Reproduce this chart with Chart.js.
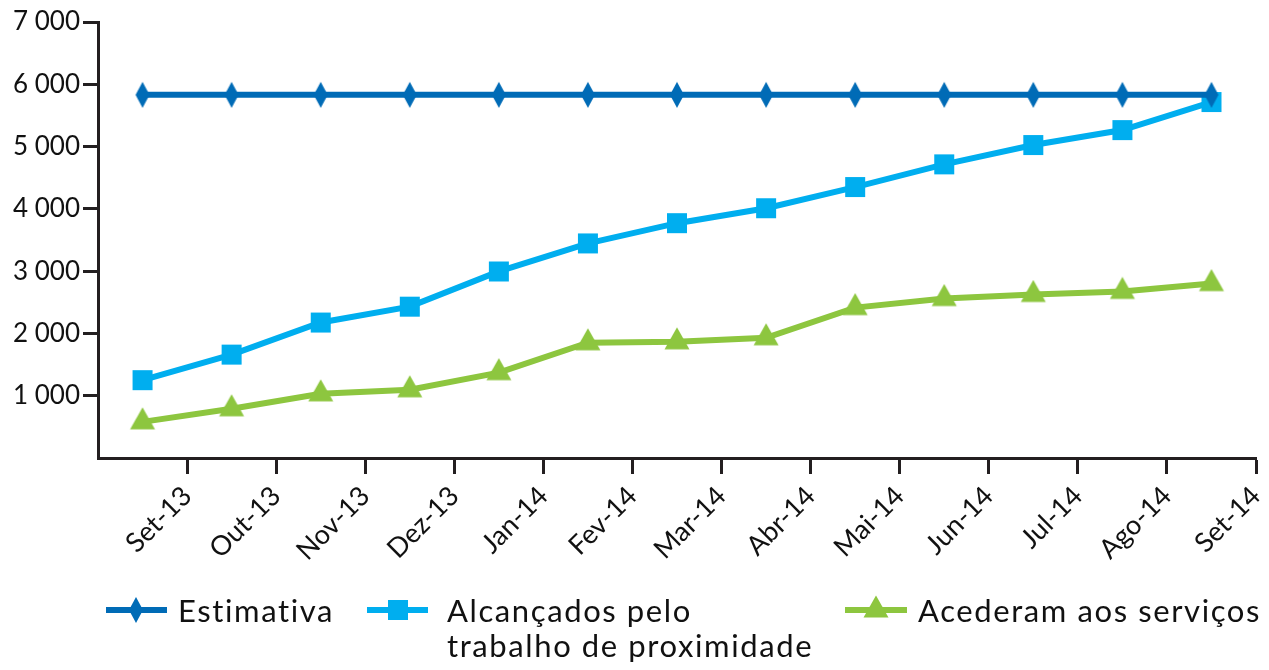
<!DOCTYPE html>
<html>
<head>
    <title>Estimativa vs alcançados</title>
    <script src="https://cdn.jsdelivr.net/npm/chart.js"></script>
    <style>
        body { margin: 0; background: #fff; }
        #wrap { width: 1269px; height: 670px; }
    </style>
</head>
<body>
<div id="wrap"><canvas id="chart" width="1269" height="670"></canvas></div>
<script>
    // data
    const months = ["Set-13", "Out-13", "Nov-13", "Dez-13", "Jan-14", "Fev-14", "Mar-14",
                    "Abr-14", "Mai-14", "Jun-14", "Jul-14", "Ago-14", "Set-14"];
    const estimativa = [5830, 5830, 5830, 5830, 5830, 5830, 5830, 5830, 5830, 5830, 5830, 5830, 5830];
    const alcancados = [1250, 1660, 2175, 2430, 2995, 3445, 3770, 4010, 4350, 4715, 5025, 5265, 5715];
    const acederam = [580, 790, 1030, 1095, 1370, 1850, 1865, 1930, 2415, 2560, 2625, 2675, 2800];
    const seriesNames = ["Estimativa", "Alcançados pelo\ntrabalho de proximidade", "Acederam aos serviços"];

    const C_EST = "#006bb6", C_ALC = "#00aeef", C_ACE = "#8dc63f", C_AXIS = "#231f20";
    const FONT = "Lato, 'Open Sans', sans-serif";

    // marker shapes, also reused by the legend
    function drawMarker(ctx, kind, x, y, color) {
        ctx.save();
        ctx.fillStyle = color;
        ctx.beginPath();
        if (kind === "diamond") {
            ctx.moveTo(x, y - 13); ctx.lineTo(x + 7, y); ctx.lineTo(x, y + 13); ctx.lineTo(x - 7, y);
        } else if (kind === "square") {
            ctx.rect(x - 10, y - 10, 20, 20);
        } else {
            ctx.moveTo(x, y - 14.5); ctx.lineTo(x + 12.5, y + 7.5); ctx.lineTo(x - 12.5, y + 7.5);
        }
        ctx.closePath();
        ctx.fill();
        ctx.restore();
    }
    function markerCanvas(kind, color) {
        const c = document.createElement("canvas");
        c.width = 30; c.height = 30;
        drawMarker(c.getContext("2d"), kind, 15, 15, color);
        return c;
    }

    const toPoints = arr => arr.map((v, i) => ({ x: i + 0.5, y: v }));

    const legendPlugin = {
        id: "bottomLegend",
        afterDraw(chart) {
            const ctx = chart.ctx;
            const items = [
                { lx: 106, rx: 167, mx: 136, tx: 178, color: C_EST, kind: "diamond", text: seriesNames[0] },
                { lx: 367, rx: 428, mx: 398, tx: 447, color: C_ALC, kind: "square", text: seriesNames[1] },
                { lx: 845, rx: 907, mx: 876, tx: 918, color: C_ACE, kind: "triangle", text: seriesNames[2] }
            ];
            ctx.save();
            items.forEach(it => {
                ctx.strokeStyle = it.color;
                ctx.lineWidth = 6;
                ctx.beginPath();
                ctx.moveTo(it.lx, 610); ctx.lineTo(it.rx, 610);
                ctx.stroke();
                drawMarker(ctx, it.kind, it.mx, 610, it.color);
                ctx.fillStyle = "#111";
                ctx.font = "31px " + FONT;
                ctx.letterSpacing = "1.6px";
                ctx.textBaseline = "alphabetic";
                ctx.textAlign = "left";
                it.text.split("\n").forEach((line, k) => ctx.fillText(line, it.tx, 622 + k * 35));
            });
            ctx.restore();
        }
    };

    new Chart(document.getElementById("chart"), {
        type: "line",
        data: {
            datasets: [
                { label: seriesNames[0], data: toPoints(estimativa), borderColor: C_EST, borderWidth: 6,
                  pointStyle: markerCanvas("diamond", C_EST), tension: 0 },
                { label: seriesNames[1], data: toPoints(alcancados), borderColor: C_ALC, borderWidth: 6,
                  pointStyle: markerCanvas("square", C_ALC), tension: 0 },
                { label: seriesNames[2], data: toPoints(acederam), borderColor: C_ACE, borderWidth: 6,
                  pointStyle: markerCanvas("triangle", C_ACE), tension: 0 }
            ]
        },
        options: {
            responsive: false,
            animation: false,
            layout: { padding: { top: 22, right: 13, left: 0, bottom: 0 } },
            plugins: { legend: { display: false }, tooltip: { enabled: false } },
            scales: {
                x: {
                    type: "linear", min: 0, max: 13,
                    afterFit: s => { s.height = 212; s.paddingLeft = 0; s.paddingRight = 0; },
                    border: { color: C_AXIS, width: 3 },
                    grid: {
                        drawOnChartArea: false, tickLength: 16, tickWidth: 3,
                        tickColor: c => c.tick && c.tick.value === 0 ? "rgba(0,0,0,0)" : C_AXIS
                    },
                    ticks: {
                        stepSize: 1, autoSkip: false, maxRotation: 45, minRotation: 45, padding: 6,
                        color: "#111", font: { family: FONT, size: 27 },
                        callback: v => v >= 1 ? months[v - 1] : ""
                    }
                },
                y: {
                    min: 0, max: 7000,
                    afterFit: s => { s.width = 98; s.paddingTop = 0; s.paddingBottom = 0; },
                    border: { color: C_AXIS, width: 3 },
                    grid: {
                        drawOnChartArea: false, tickLength: 15, tickWidth: 3,
                        tickColor: c => c.tick && c.tick.value === 0 ? "rgba(0,0,0,0)" : C_AXIS
                    },
                    ticks: {
                        stepSize: 1000, padding: 3, color: "#111", font: { family: FONT, size: 26 },
                        callback: v => v === 0 ? "" : String(v).replace(/\B(?=(\d{3})+(?!\d))/g, " ")
                    }
                }
            }
        },
        plugins: [legendPlugin]
    });
</script>
</body>
</html>
